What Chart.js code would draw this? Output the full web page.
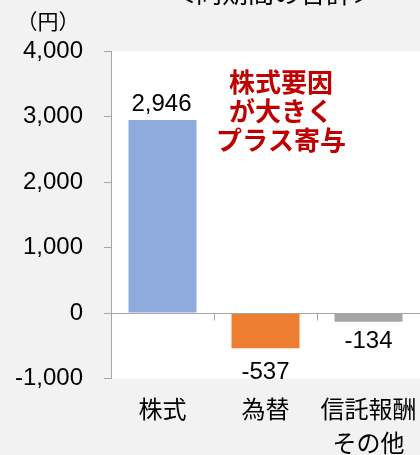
<!DOCTYPE html>
<html><head><meta charset="utf-8">
<script src="https://cdn.jsdelivr.net/npm/chart.js@4/dist/chart.umd.min.js"></script>
<style>html,body{margin:0;padding:0;background:#f2f2f2;}#wrap{width:420px;height:455px;position:relative;}</style>
</head><body><div id="wrap"><canvas id="c" width="420" height="455"></canvas></div>
<script>
const categories = [["株式"], ["為替"], ["信託報酬", "その他"]];
const values = [2946, -537, -134];
const barColors = ["#8faadc", "#ed7d31", "#a5a5a5"];
const yTicks = [-1000, 0, 1000, 2000, 3000, 4000];
const titleText = "＜同期間の合計＞";
const unitText = "（円）";
const noteLines = ["株式要因", "が大きく", "プラス寄与"];

const FONT = "'Liberation Sans', Arial, 'Noto Sans CJK JP', sans-serif";
const JFONT = "'Noto Sans CJK JP', sans-serif";
const AXIS = "#a6a6a6";

const deco = {
  id: 'deco',
  beforeDraw(chart) {
    const {ctx, chartArea: a} = chart;
    ctx.save();
    ctx.fillStyle = '#f2f2f2';
    ctx.fillRect(0, 0, chart.width, chart.height);
    ctx.fillStyle = '#ffffff';
    ctx.fillRect(a.left + 1, a.top, a.right - a.left, a.bottom - a.top);
    ctx.restore();
  },
  afterDatasetsDraw(chart) {
    const {ctx, chartArea: a, scales: {x, y}} = chart;
    ctx.save();
    const y0 = Math.round(y.getPixelForValue(0)) + 0.5;
    ctx.strokeStyle = AXIS; ctx.lineWidth = 1;
    ctx.beginPath(); ctx.moveTo(a.left, y0); ctx.lineTo(a.right, y0); ctx.stroke();
    const n = categories.length;
    const step = x.getPixelForValue(1) - x.getPixelForValue(0);
    for (let i = 0; i < n; i++) {
      const bx = Math.round(x.getPixelForValue(i) + step / 2) + 0.5;
      ctx.beginPath(); ctx.moveTo(bx, y0); ctx.lineTo(bx, y0 + 7); ctx.stroke();
    }
    ctx.fillStyle = '#000';
    ctx.font = '24px ' + FONT;
    ctx.textAlign = 'center';
    const meta = chart.getDatasetMeta(0);
    meta.data.forEach((bar, i) => {
      const v = values[i];
      const txt = v.toLocaleString('en-US');
      if (v >= 0) { ctx.textBaseline = 'bottom'; ctx.fillText(txt, bar.x - 1, bar.y - 4); }
      else { ctx.textBaseline = 'top'; ctx.fillText(txt, bar.x, bar.y + (i === 1 ? 12 : 8)); }
    });
    ctx.fillStyle = '#c00000';
    ctx.font = 'bold 26px ' + JFONT;
    ctx.textBaseline = 'middle';
    noteLines.forEach((t, i) => ctx.fillText(t, 281, 82 + i * 29));
    ctx.fillStyle = '#000';
    ctx.font = '21px ' + JFONT;
    ctx.fillText(unitText, 48, 21);
    ctx.font = '26px ' + JFONT;
    ctx.textBaseline = 'alphabetic';
    ctx.fillText(titleText, 274, 3);
    ctx.restore();
  }
};

new Chart(document.getElementById('c'), {
  type: 'bar',
  data: {
    labels: categories,
    datasets: [{ data: values, backgroundColor: barColors, borderWidth: 0,
      barPercentage: 0.66, categoryPercentage: 1 }]
  },
  options: {
    responsive: false, animation: false,
    layout: { padding: { top: 51, right: 0, left: 0, bottom: 0 } },
    plugins: { legend: { display: false }, tooltip: { enabled: false } },
    scales: {
      x: {
        grid: { display: false, drawTicks: false },
        border: { display: false },
        ticks: { color: '#000', font: { size: 24, family: JFONT, lineHeight: 1.42 }, padding: 13, maxRotation: 0, autoSkip: false },
        afterFit(s) { s.height = 76.5; s.paddingLeft = 0; s.paddingRight = 0; }
      },
      y: {
        min: -1000, max: 4000,
        afterBuildTicks(s) { s.ticks = yTicks.map(v => ({ value: v })); },
        grid: { drawOnChartArea: false, drawTicks: true, tickLength: 7, color: AXIS },
        border: { display: true, color: AXIS },
        ticks: { color: '#000', font: { size: 24, family: FONT }, padding: 21,
          callback: v => v.toLocaleString('en-US') },
        afterFit(s) { s.width = 111; }
      }
    }
  },
  plugins: [deco]
});
</script></body></html>
